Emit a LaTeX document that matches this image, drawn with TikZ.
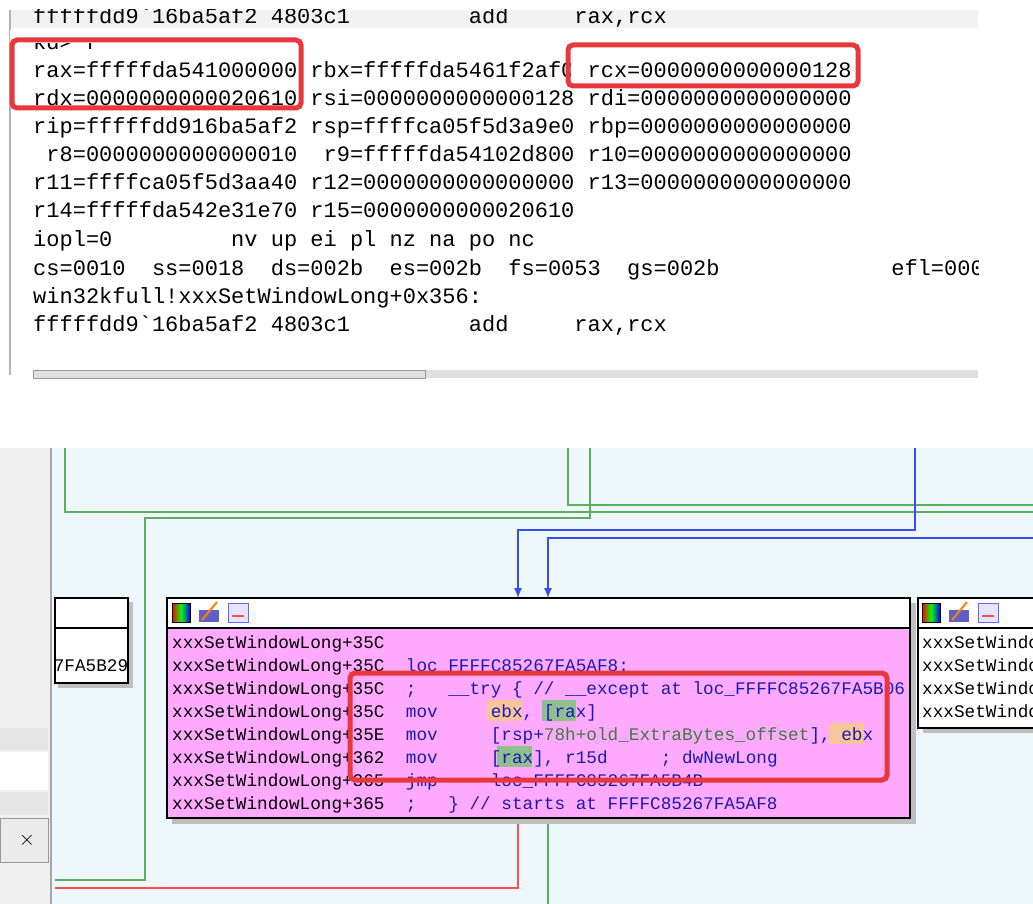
\documentclass[tikz,border=0pt]{standalone}
\usepackage{fontspec}
\setmonofont{Liberation Mono}
\usetikzlibrary{positioning,arrows.meta}
\definecolor{panelblue}{HTML}{EEF8FC}
\definecolor{pinkbody}{HTML}{FFAAFF}
\definecolor{boxred}{HTML}{E8383D}
\definecolor{edgegreen}{HTML}{5CAE5C}
\definecolor{edgeblue}{HTML}{3A4BF0}
\definecolor{hlorange}{HTML}{F7C59A}
\definecolor{hlgreen}{HTML}{8FBF8F}
\definecolor{codeblue}{HTML}{1A1AB0}
\newcommand{\gap}[1]{\foreach \i in {1,...,#1}{\ }}
\tikzset{
  reg/.style={anchor=base west,inner sep=0pt,font=\ttfamily\fontsize{22}{22}\selectfont},
  asm/.style={anchor=base west,inner sep=0pt,font=\ttfamily\fontsize{17.7}{18}\selectfont},
  hilite/.style={draw=boxred,line width=5pt,rounded corners=5pt},
  edge/.style={line width=1.3pt},
  blk/.style={draw=black,line width=1.2pt}
}
\begin{document}
\begin{tikzpicture}[x=1pt,y=-1pt]
        \useasboundingbox (0,0) rectangle (1033,904);
        \fill[white] (0,0) rectangle (1033,904);
        % register window
        \fill[black!5] (10,10) rectangle (978,28);
        \draw[black!30,line width=1.5pt] (10,10) -- (10,375);
        \fill[black!12] (33,370) rectangle (978,378);
        \draw[black!40] (33,370) rectangle (425,378);
        \begin{scope}
        \clip (10,10) rectangle (978,375);
        \node[reg] (prev) at (33,24) {fffffdd9`16ba5af2 4803c1\ \ \ \ \ \ \ \ \ add\ \ \ \ \ rax,rcx};
        \node[reg] (kd) at (33,50) {kd> r};
        \end{scope}
        \fill[white] (10,30) rectangle (978,43);
        \node[reg] (rax) at (33,78) {rax=fffffda541000000 rbx=fffffda5461f2af0 rcx=0000000000000128};
        \node[reg] (rdx) at (33,106) {rdx=0000000000020610 rsi=0000000000000128 rdi=0000000000000000};
        \node[reg] (rip) at (33,134) {rip=fffffdd916ba5af2 rsp=ffffca05f5d3a9e0 rbp=0000000000000000};
        \node[reg] (r8) at (33,162) {\ r8=0000000000000010\ \ r9=fffffda54102d800 r10=0000000000000000};
        \node[reg] (r11) at (33,190) {r11=ffffca05f5d3aa40 r12=0000000000000000 r13=0000000000000000};
        \node[reg] (r14) at (33,218) {r14=fffffda542e31e70 r15=0000000000020610};
        \node[reg] (iopl) at (33,247) {iopl=0\ \ \ \ \ \ \ \ \ nv up ei pl nz na po nc};
        \begin{scope}
        \clip (10,10) rectangle (978,375);
        \node[reg] (seg) at (33,275) {cs=0010\ \ ss=0018\ \ ds=002b\ \ es=002b\ \ fs=0053\ \ gs=002b\ \ \ \ \ \ \ \ \ \ \ \ \ efl=00000206};
        \end{scope}
        \node[reg] (sym) at (33,303) {win32kfull!xxxSetWindowLong+0x356:};
        \node[reg] (cur) at (33,331) {fffffdd9`16ba5af2 4803c1\ \ \ \ \ \ \ \ \ add\ \ \ \ \ rax,rcx};
        \fill[white] (571,60) rectangle (584,84);
        \draw[hilite] (12,40) rectangle (301,108);
        \draw[hilite] (568,45) rectangle (858,86);
        % graph view
        \fill[panelblue] (52,448) rectangle (1033,904);
        \fill[black!6] (0,448) rectangle (50,904);
        \fill[black!10] (0,728) rectangle (48,750);
        \fill[white] (0,752) rectangle (48,790);
        \fill[black!10] (0,792) rectangle (48,815);
        \draw[black!40,fill=black!8] (0,818) rectangle (48,862);
        \node[font=\sffamily\fontsize{20}{20}\selectfont] (close) at (27,840) {$\times$};
        \draw[black!35,line width=1.5pt] (51,448) -- (51,904);
        % edges
        \coordinate (g1) at (65,448);
        \coordinate (g2) at (568,448);
        \coordinate (g3) at (590,448);
        \coordinate (b1) at (915,448);
        \coordinate (b2) at (1033,538);
        \draw[edge,edgegreen] (g1) |- (1033,512);
        \draw[edge,edgegreen] (g2) |- (1033,505);
        \draw[edge,edgegreen] (g3) |- (145,518) |- (55,880);
        \draw[edge,edgeblue,-{Latex[length=10pt,width=8pt]}] (b1) |- (518,530) -- (518,598);
        \draw[edge,edgeblue,-{Latex[length=10pt,width=8pt]}] (b2) -| (548,598);
        \draw[edge,red!70] (518,818) |- (55,888);
        \draw[edge,edgegreen] (548,818) -- (548,904);
        % side blocks
        \fill[black!25] (58,602) rectangle (133,688);
        \draw[blk,fill=white] (55,598) rectangle (128,683);
        \draw[blk] (55,628) -- (128,628);
        \begin{scope}
        \clip (55,598) rectangle (128,683);
        \node[asm] (lft) at (43,671) {67FA5B29};
        \end{scope}
        \fill[black!25] (923,602) rectangle (1033,733);
        \draw[blk,fill=white] (918,598) rectangle (1040,728);
        \draw[blk] (918,628) -- (1033,628);
        \begin{scope}
        \clip (918,598) rectangle (1033,728);
        \foreach \k/\yy in {1/648,2/671,3/694,4/717}
          \node[asm] (rb\k) at (922,\yy) {xxxSetWindowLong};
        \end{scope}
        % main block
        \fill[black!25] (172,603) rectangle (916,824);
        \draw[blk,fill=white] (167,598) rectangle (910,818);
        \fill[pinkbody] (167,628) rectangle (910,818);
        \draw[blk] (167,598) rectangle (910,818);
        \draw[blk] (167,628) -- (910,628);
        \foreach \ix in {172,922}{
          \shade[left color=red,right color=blue,middle color=green] (\ix,603) rectangle (\ix+18,622);
          \draw[black] (\ix,603) rectangle (\ix+18,622);
          \fill[codeblue!70] (\ix+27,610) rectangle (\ix+47,622);
          \draw[orange,line width=2pt] (\ix+30,620) -- (\ix+45,602);
          \draw[blue!60,fill=blue!10] (\ix+56,603) rectangle (\ix+76,622);
          \draw[red!70,line width=1.5pt] (\ix+60,616) -- (\ix+72,616);
        }
        \fill[hlorange] (487,700) rectangle (522,721);
        \fill[hlgreen] (542,700) rectangle (576,721);
        \fill[hlorange] (829,723) rectangle (864,744);
        \fill[hlgreen] (497,746) rectangle (532,767);
        \node[asm] (a1) at (172,648) {xxxSetWindowLong+35C};
        \node[asm] (a2) at (172,671) {xxxSetWindowLong+35C\ \ \textcolor{codeblue}{loc\_FFFFC85267FA5AF8:}};
        \node[asm] (a3) at (172,694) {xxxSetWindowLong+35C\ \ \textcolor{codeblue}{;\ \ \ \_\_try \{ // \_\_except at loc\_FFFFC85267FA5B06}};
        \node[asm] (a4) at (172,717) {xxxSetWindowLong+35C\ \ \textcolor{codeblue}{mov\ \ \ \ \ ebx, [rax]}};
        \node[asm] (a5) at (172,740) {xxxSetWindowLong+35E\ \ \textcolor{codeblue}{mov\ \ \ \ \ [rsp+\textcolor{edgegreen!70!black}{78h+old\_ExtraBytes\_offset}], ebx}};
        \node[asm] (a6) at (172,763) {xxxSetWindowLong+362\ \ \textcolor{codeblue}{mov\ \ \ \ \ [rax], r15d\ \ \ \ \ ; dwNewLong}};
        \node[asm] (a7) at (172,786) {xxxSetWindowLong+365\ \ \textcolor{codeblue}{jmp\ \ \ \ \ loc\_FFFFC85267FA5B4B}};
        \node[asm] (a8) at (172,809) {xxxSetWindowLong+365\ \ \textcolor{codeblue}{;\ \ \ \} // starts at FFFFC85267FA5AF8}};
        \draw[hilite] (350,673) rectangle (887,780);
    \end{tikzpicture}
\end{document}
